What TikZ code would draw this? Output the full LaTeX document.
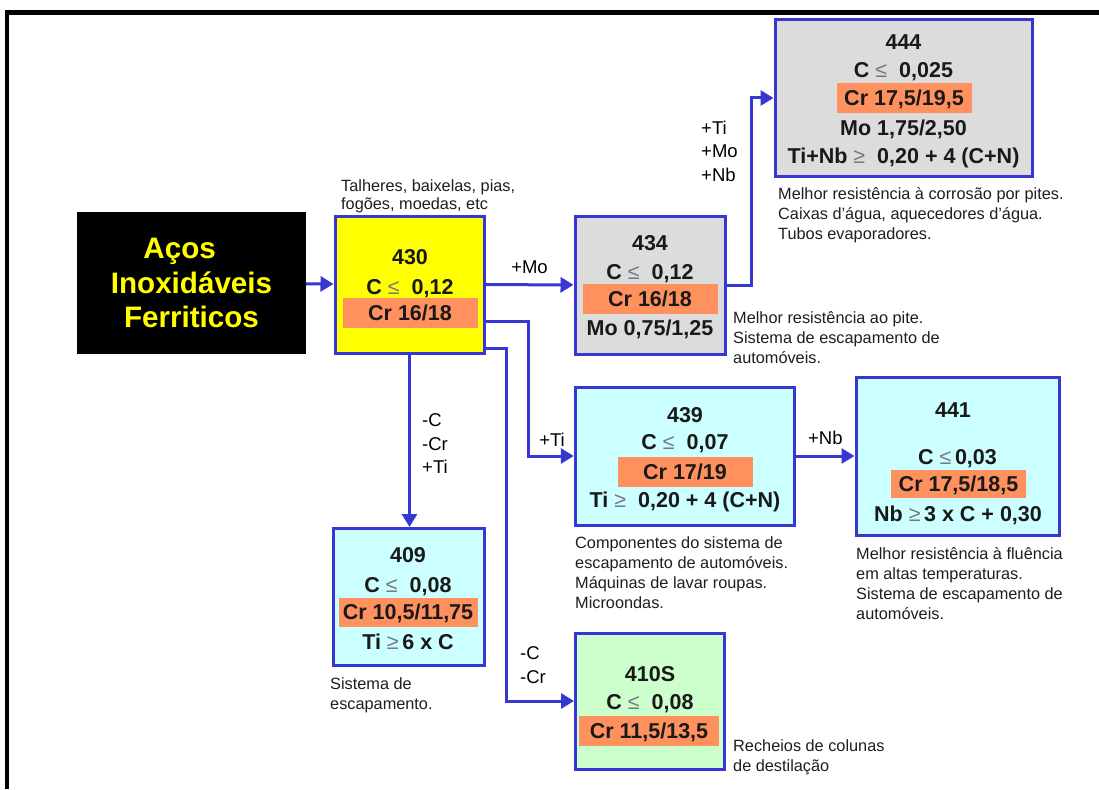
\documentclass[tikz,border=0pt]{standalone}
\usepackage{fontspec}
\setmainfont{Liberation Sans}
\usetikzlibrary{arrows.meta, positioning, calc}
\definecolor{lineblue}{RGB}{55,55,210}
\definecolor{boxyellow}{RGB}{255,255,0}
\definecolor{boxgray}{RGB}{220,220,220}
\definecolor{boxcyan}{RGB}{204,255,255}
\definecolor{boxgreen}{RGB}{204,255,204}
\definecolor{bandorange}{RGB}{255,145,95}
\definecolor{symgray}{RGB}{120,120,130}
\definecolor{captext}{RGB}{30,30,30}
\newcommand{\leqsym}{{\color{symgray}\mdseries ≤}}
\newcommand{\geqsym}{{\color{symgray}\mdseries ≥}}

\begin{document}
\begin{tikzpicture}[x=1pt,y=-1pt,
  font=\fontsize{21.5}{26}\selectfont\bfseries,
  gradebox/.style={draw=lineblue,line width=3pt,inner sep=0pt},
  ln/.style={inner sep=0pt,text height=15.5pt,text depth=0pt,text=black!90},
  band/.style={ln,fill=bandorange,minimum width=135pt,minimum height=30pt},
  titlebox/.style={fill=black,text=boxyellow,align=center,inner sep=0pt,
                minimum width=229pt,minimum height=142pt,
                font=\fontsize{29.6}{34.5}\selectfont\bfseries},
  arr/.style={-{Triangle[length=13pt,width=15pt]},line width=3pt,draw=lineblue},
  lbl/.style={font=\fontsize{18.5}{23.5}\selectfont\mdseries,inner sep=1pt,align=left},
  note/.style={font=\fontsize{16.3}{20.2}\selectfont\mdseries,text=captext,
              inner sep=0pt,align=left,anchor=north west}
]
  \useasboundingbox (0,0) rectangle (1099,789);
  \draw[line width=4.5pt] (7,789) -- (7,12.5) -- (1099,12.5);

  % main group
  \node[titlebox] (acos) at (191.5,283) {Aços\hspace*{0.8em}\\Inoxidáveis\\Ferriticos};

  \node[gradebox,fill=boxyellow,minimum width=149pt,minimum height=137pt] (g430) at (409.5,284.5) {};
  \node[ln] (n430) at (410,257) {430};
  \node[ln] (c430) at (410,287) {C \leqsym~ 0,12};
  \node[band] (cr430) at (410,312.5) {Cr 16/18};
  \node[note,font=\fontsize{16.3}{18.3}\selectfont] (k430) at (341,179) {Talheres, baixelas, pias,\\fogões, moedas, etc};

  % +Mo branch
  \node[gradebox,fill=boxgray,minimum width=150pt,minimum height=138pt] (g434) at (650,285) {};
  \node[ln] (n434) at (650,243) {434};
  \node[ln] (c434) at (650,272) {C \leqsym~ 0,12};
  \node[band] (cr434) at (650,299) {Cr 16/18};
  \node[ln] (m434) at (650,328) {Mo 0,75/1,25};
  \node[note] (k434) at (733,311) {Melhor resistência ao pite.\\Sistema de escapamento de\\automóveis.};

  \node[gradebox,fill=boxgray,minimum width=257pt,minimum height=156pt] (g444) at (903.5,98) {};
  \node[ln] (n444) at (903.5,42) {444};
  \node[ln] (c444) at (903.5,70) {C \leqsym~ 0,025};
  \node[band] (cr444) at (904,98) {Cr 17,5/19,5};
  \node[ln] (m444) at (903.5,128) {Mo 1,75/2,50};
  \node[ln] (t444) at (903.5,156) {Ti+Nb \geqsym~ 0,20 + 4 (C+N)};
  \node[note] (k444) at (778,187) {Melhor resistência à corrosão por pites.\\Caixas d’água, aquecedores d’água.\\Tubos evaporadores.};

  % +Ti branch
  \node[gradebox,fill=boxcyan,minimum width=219.5pt,minimum height=138pt] (g439) at (685,456) {};
  \node[ln] (n439) at (685,415) {439};
  \node[ln] (c439) at (685,442) {C \leqsym~ 0,07};
  \node[band] (cr439) at (685,471.5) {Cr 17/19};
  \node[ln] (t439) at (685,500) {Ti \geqsym~ 0,20 + 4 (C+N)};
  \node[note] (k439) at (575,536) {Componentes do sistema de\\escapamento de automóveis.\\Máquinas de lavar roupas.\\Microondas.};

  \node[gradebox,fill=boxcyan,minimum width=203pt,minimum height=158pt] (g441) at (957.5,456) {};
  \node[ln] (n441) at (953,410) {441};
  \node[ln] (c441) at (957.5,457) {C \leqsym\,0,03};
  \node[band,minimum height=28pt] (cr441) at (958.5,484) {Cr 17,5/18,5};
  \node[ln] (t441) at (958,514) {Nb \geqsym\,3 x C + 0,30};
  \node[note] (k441) at (856,547) {Melhor resistência à fluência\\em altas temperaturas.\\Sistema de escapamento de\\automóveis.};

  % -C -Cr branches
  \node[gradebox,fill=boxcyan,minimum width=151pt,minimum height=137pt] (g409) at (408.5,597) {};
  \node[ln] (n409) at (408,555) {409};
  \node[ln] (c409) at (408,585) {C \leqsym~ 0,08};
  \node[band,minimum width=139pt,minimum height=29pt] (cr409) at (408,612) {Cr 10,5/11,75};
  \node[ln] (t409) at (408,642) {Ti \geqsym\,6 x C};
  \node[note] (k409) at (330,677) {Sistema de\\escapamento.};

  \node[gradebox,fill=boxgreen,minimum width=149pt,minimum height=136pt] (g410) at (650,701) {};
  \node[ln] (n410) at (650,674) {410S};
  \node[ln] (c410) at (650,701.5) {C \leqsym~ 0,08};
  \node[band,minimum width=140pt] (cr410) at (649,731) {Cr 11,5/13,5};
  \node[note] (k410) at (733,739) {Recheios de colunas\\de destilação};

  % connectors
  \draw[arr] (acos) -- (g430);
  \draw[arr] (g430) -- node[lbl,above=9pt]{+Mo} (g434);
  \draw[arr] (g434.east) -- ++(25,0) |- (g444.west);
  \node[lbl,anchor=west] (l444) at (700,151) {+Ti\\+Mo\\+Nb};
  \draw[arr] ($(g430.east)+(0,36.5)$) -- ++(43,0) |- node[lbl,above=7pt,pos=0.76]{+Ti} (g439.west);
  \draw[arr] (g439) -- node[lbl,above=9pt]{+Nb} (g441);
  \draw[arr] (g430.south) -- (g430.south |- g409.north);
  \node[lbl,anchor=west] (l409) at (421,444) {-C\\-Cr\\+Ti};
  \draw[arr] ($(g430.south east)+(0,-6)$) -- ++(21,0) |- (g410.west);
  \node[lbl,anchor=west] (l410) at (519,665) {-C\\-Cr};
\end{tikzpicture}
\end{document}
